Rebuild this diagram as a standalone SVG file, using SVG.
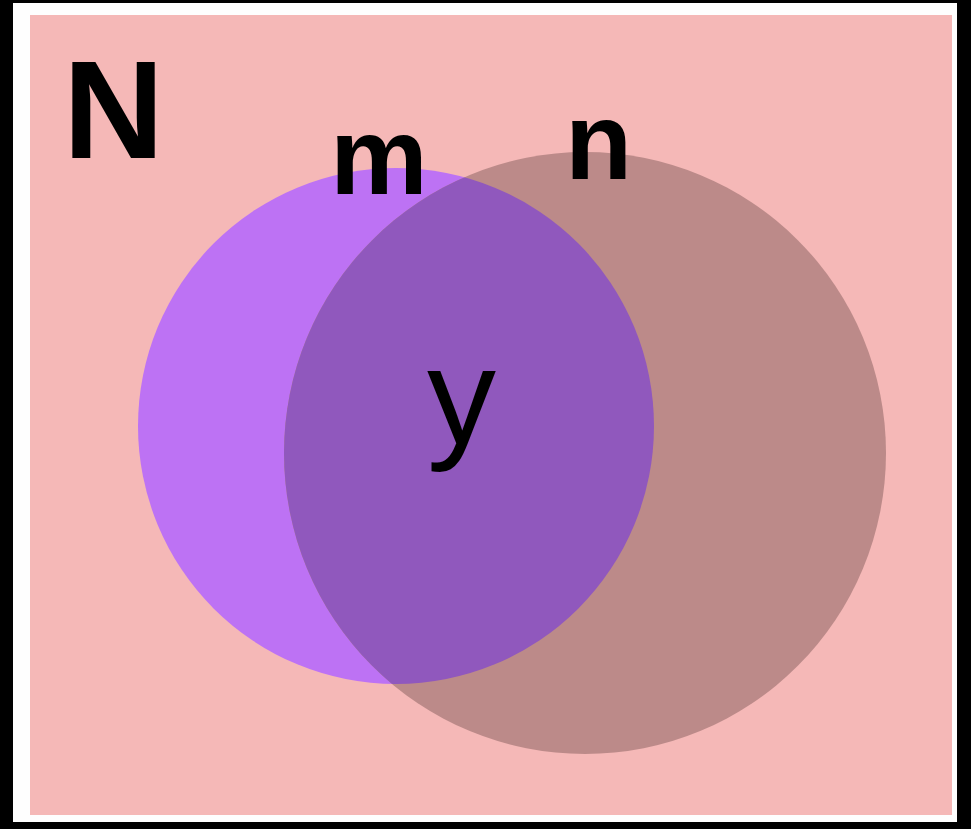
<svg xmlns="http://www.w3.org/2000/svg" width="971" height="829" viewBox="0 0 971 829">
  <defs>
    <style>
      .bold { font-family: "Liberation Sans", Arial, sans-serif; font-weight: bold; fill: #000; }
      .reg { font-family: "Liberation Sans", Arial, sans-serif; fill: #000; }
    </style>
    <clipPath id="clipN">
      <circle cx="585" cy="453" r="301"/>
    </clipPath>
  </defs>
  <rect x="0" y="0" width="971" height="829" fill="#000"/>
  <rect x="13" y="3" width="944" height="819" fill="#fefefe"/>
  <rect id="universe" x="30" y="15" width="922" height="800" fill="#f5b8b7"/>
  <g id="set-m">
    <circle cx="396" cy="426" r="258" fill="#bd72f4"/>
  </g>
  <g id="set-n">
    <circle cx="585" cy="453" r="301" fill="#bc8a89"/>
  </g>
  <g id="intersection">
    <circle cx="396" cy="426" r="258" fill="#9058bd" clip-path="url(#clipN)"/>
  </g>
  <g id="connectors"></g>
  <g id="labels">
    <text class="bold" x="63" y="158" font-size="140">N</text>
    <text class="bold" x="330" y="194" font-size="110">m</text>
    <text class="bold" x="565" y="179" font-size="110">n</text>
    <text class="reg" x="427" y="443" font-size="138">y</text>
  </g>
</svg>
